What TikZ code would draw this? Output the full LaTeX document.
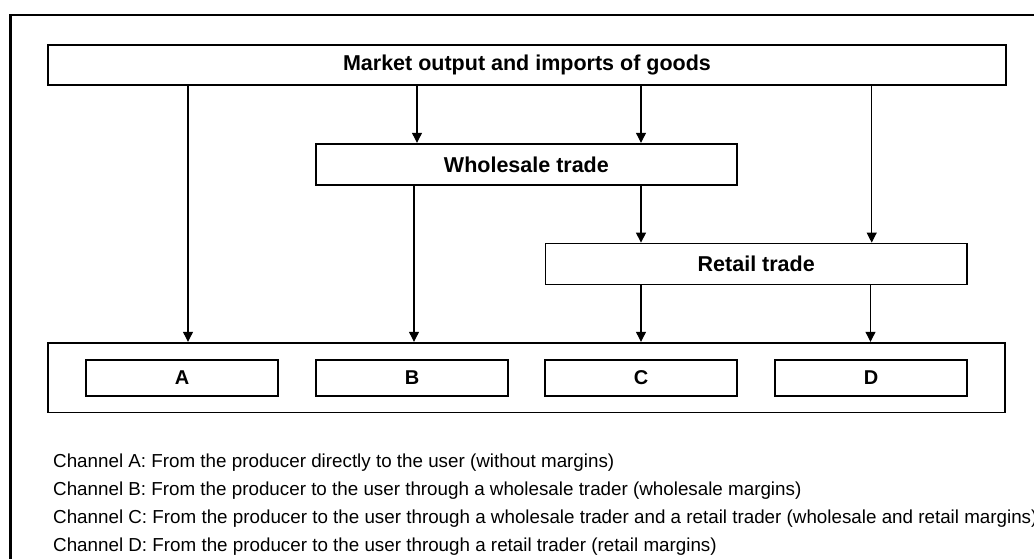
\documentclass[tikz,border=0pt]{standalone}
\usepackage{fontspec}
\setmainfont{Liberation Sans}
\usetikzlibrary{arrows.meta}
\tikzset{
  box/.style={draw=black, line width=1.8pt, rectangle, inner sep=0pt, fill=white},
  head/.style={font=\fontsize{21.5}{25}\selectfont\bfseries},
  letter/.style={font=\fontsize{20}{24}\selectfont\bfseries},
  legend/.style={font=\fontsize{18.8}{22}\selectfont, anchor=base west, inner sep=0pt},
  arr/.style={draw=black, line width=1.1pt, -{Triangle[width=10pt,length=10pt]}},
  frame/.style={draw=black, line width=2.2pt}
}
\begin{document}
\begin{tikzpicture}[x=1pt,y=-1pt]
\useasboundingbox (0,0) rectangle (1034,558);
\fill[white] (0,0) rectangle (1034,558);
\draw[frame] (10.5,560) -- (10.5,15) -- (1036,15);

\node[box, head, minimum width=957.4pt, minimum height=40.3pt] (top) at (527,64.85) {Market output and imports of goods};
\node[box, head, minimum width=421.3pt, minimum height=41.3pt] (whole) at (526.4,164.35) {Wholesale trade};
\node[box, head, minimum width=421.5pt, minimum height=41pt] (retail) at (756.25,264) {Retail trade};
\node[box, minimum width=957pt, minimum height=69.8pt] (users) at (526.8,377.6) {};
\node[box, letter, minimum width=192pt, minimum height=36pt] (A) at (182,378) {A};
\node[box, letter, minimum width=192pt, minimum height=36pt] (B) at (412,378) {B};
\node[box, letter, minimum width=192pt, minimum height=36pt] (C) at (641,378) {C};
\node[box, letter, minimum width=192pt, minimum height=36pt] (D) at (871,378) {D};

\coordinate (xA) at (188,0);
\coordinate (xW1) at (417,0);
\coordinate (xW2) at (641,0);
\coordinate (xR) at (871.7,0);
\coordinate (xB) at (414,0);
\coordinate (xC) at (641,0);
\coordinate (xD) at (870.5,0);

\draw[arr] (top.south -| xA) -- (users.north -| xA);
\draw[arr] (top.south -| xW1) -- (whole.north -| xW1);
\draw[arr] (top.south -| xW2) -- (whole.north -| xW2);
\draw[arr] (top.south -| xR) -- (retail.north -| xR);
\draw[arr] (whole.south -| xB) -- (users.north -| xB);
\draw[arr] (whole.south -| xC) -- (retail.north -| xC);
\draw[arr] (retail.south -| xC) -- (users.north -| xC);
\draw[arr] (retail.south -| xD) -- (users.north -| xD);

\node[legend] (la) at (53,467) {Channel A: From the producer directly to the user (without margins)};
\node[legend] (lb) at (53,495) {Channel B: From the producer to the user through a wholesale trader (wholesale margins)};
\node[legend] (lc) at (53,523) {Channel C: From the producer to the user through a wholesale trader and a retail trader (wholesale and retail margins)};
\node[legend] (ld) at (53,551) {Channel D: From the producer to the user through a retail trader (retail margins)};
\end{tikzpicture}
\end{document}
